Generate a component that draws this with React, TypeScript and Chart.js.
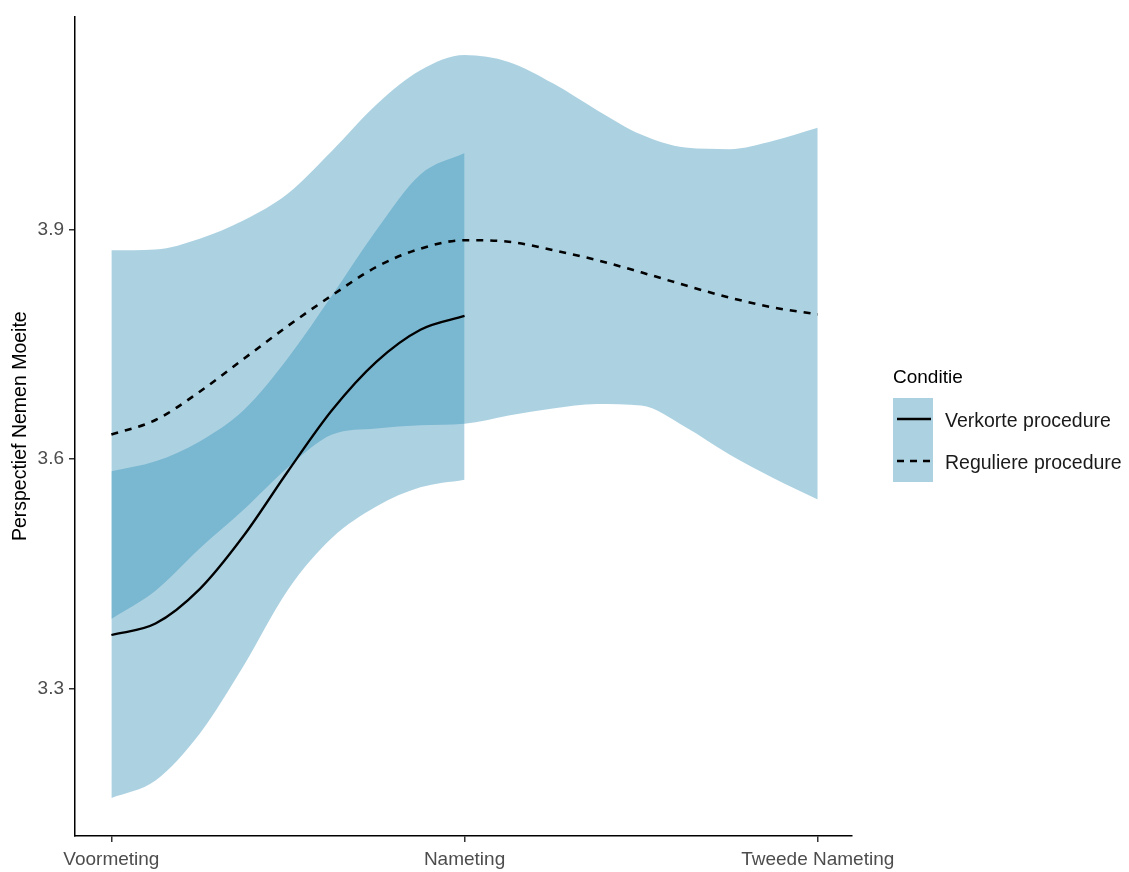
import React, { useEffect, useRef } from "react";
import { Chart, registerables } from "chart.js";

Chart.register(...registerables);

// X categories (positions 0, 1, 2 on a continuous axis)
const xLabels = ["Voormeting", "Nameting", "Tweede Nameting"];
const yTicks = [3.3, 3.6, 3.9];

// Reguliere procedure (smoothed line + ribbon)
const regX = [0, 0.125, 0.25, 0.375, 0.5, 0.625, 0.75, 0.875, 1, 1.125, 1.25, 1.375, 1.5, 1.625, 1.75, 1.875, 2];
const regMean = [3.632, 3.651, 3.688, 3.731, 3.774, 3.814, 3.851, 3.875, 3.886, 3.884, 3.873, 3.86, 3.844, 3.827, 3.811, 3.798, 3.789];
const regHi = [3.873, 3.874, 3.888, 3.912, 3.947, 4.003, 4.063, 4.108, 4.128, 4.119, 4.091, 4.056, 4.024, 4.007, 4.005, 4.016, 4.033];
const regLo = [3.391, 3.428, 3.483, 3.534, 3.589, 3.632, 3.64, 3.644, 3.646, 3.657, 3.666, 3.672, 3.67, 3.642, 3.606, 3.575, 3.547];

// Verkorte procedure (smoothed line + ribbon)
const verX = [0, 0.125, 0.25, 0.375, 0.5, 0.625, 0.75, 0.875, 1];
const verMean = [3.37, 3.385, 3.43, 3.5, 3.584, 3.664, 3.727, 3.769, 3.787];
const verHi = [3.584, 3.597, 3.623, 3.664, 3.732, 3.814, 3.899, 3.972, 4.0];
const verLo = [3.157, 3.18, 3.241, 3.33, 3.429, 3.497, 3.538, 3.563, 3.573];

const legendTitle = "Conditie";
const seriesNames = ["Verkorte procedure", "Reguliere procedure"];
const axisTitle = "Perspectief Nemen Moeite";

const FONT = "'Liberation Sans', Arial, sans-serif";
const RIBBON = "rgba(48,143,183,0.4)";
const NONE = "rgba(0,0,0,0)";

const pts = (xs: number[], ys: number[]) => xs.map((x, i) => ({ x, y: ys[i] }));

const legendPlugin = {
  id: "ggLegend",
  afterDraw(chart: any) {
    const ctx = chart.ctx;
    ctx.save();
    const left = 893;
    ctx.fillStyle = "#000";
    ctx.font = `19px ${FONT}`;
    ctx.textBaseline = "middle";
    ctx.textAlign = "left";
    ctx.fillText(legendTitle, left, 378);
    ctx.fillStyle = RIBBON;
    ctx.fillRect(left, 398, 40, 84);
    ctx.strokeStyle = "#000";
    ctx.lineWidth = 2.5;
    const rows = [419, 461];
    rows.forEach((y, i) => {
      ctx.setLineDash(i === 0 ? [] : [7, 6]);
      ctx.beginPath();
      ctx.moveTo(left + 4, y);
      ctx.lineTo(left + 38, y);
      ctx.stroke();
    });
    ctx.setLineDash([]);
    ctx.fillStyle = "#1a1a1a";
    ctx.font = `19.5px ${FONT}`;
    rows.forEach((y, i) => ctx.fillText(seriesNames[i], 945, y + 3));
    ctx.restore();
  },
};

export default function App() {
  const ref = useRef<HTMLCanvasElement>(null);
  useEffect(() => {
    if (!ref.current) return;
    const common = { pointRadius: 0, cubicInterpolationMode: "monotone" as const };
    const chart = new Chart(ref.current, {
      type: "line",
      data: {
        datasets: [
          { ...common, label: "regHi", data: pts(regX, regHi), borderColor: NONE, backgroundColor: RIBBON, fill: "+1", order: 3 },
          { ...common, label: "regLo", data: pts(regX, regLo), borderColor: NONE, fill: false, order: 3 },
          { ...common, label: "verHi", data: pts(verX, verHi), borderColor: NONE, backgroundColor: RIBBON, fill: "+1", order: 2 },
          { ...common, label: "verLo", data: pts(verX, verLo), borderColor: NONE, fill: false, order: 2 },
          { ...common, label: seriesNames[0], data: pts(verX, verMean), borderColor: "#000", borderWidth: 2.3, fill: false, order: 1 },
          { ...common, label: seriesNames[1], data: pts(regX, regMean), borderColor: "#000", borderWidth: 2.6, borderDash: [7, 7], fill: false, order: 0 },
        ],
      },
      options: {
        animation: false,
        responsive: false,
        events: [],
        layout: { padding: { left: 0, right: 277, top: 13, bottom: 0 } },
        plugins: {
          legend: { display: false },
          tooltip: { enabled: false },
          filler: { drawTime: "beforeDatasetsDraw" },
        },
        scales: {
          x: {
            type: "linear",
            min: -0.103,
            max: 2.097,
            afterBuildTicks: (s: any) => { s.ticks = xLabels.map((_, i) => ({ value: i })); },
            afterFit: (s: any) => { s.height = 36; },
            ticks: {
              callback: (v: any) => xLabels[v] ?? "",
              font: { size: 19, family: FONT },
              color: "#4d4d4d",
              padding: 6,
              maxRotation: 0,
              autoSkip: false,
            },
            grid: { drawOnChartArea: false, drawTicks: true, tickLength: 6, color: "#333", lineWidth: 1.5 },
            border: { display: true, color: "#000", width: 1.5 },
          },
          y: {
            type: "linear",
            min: 3.1073,
            max: 4.1785,
            afterBuildTicks: (s: any) => { s.ticks = yTicks.map((v) => ({ value: v })); },
            afterFit: (s: any) => { s.width = 75; },
            ticks: {
              callback: (v: any) => Number(v).toFixed(1),
              font: { size: 19, family: FONT },
              color: "#4d4d4d",
              padding: 5,
            },
            title: {
              display: true,
              text: axisTitle,
              font: { size: 19.5, family: FONT },
              color: "#000",
              padding: { top: 9, bottom: 0 },
            },
            grid: { drawOnChartArea: false, drawTicks: true, tickLength: 6, color: "#333", lineWidth: 1.5 },
            border: { display: true, color: "#000", width: 1.5 },
          },
        },
      },
      plugins: [legendPlugin],
    });
    return () => chart.destroy();
  }, []);
  return (
    <div style={{ position: "fixed", left: 0, top: 0, width: 1129, height: 872, background: "#fff" }}>
      <canvas ref={ref} width={1129} height={872} style={{ display: "block" }} />
    </div>
  );
}
